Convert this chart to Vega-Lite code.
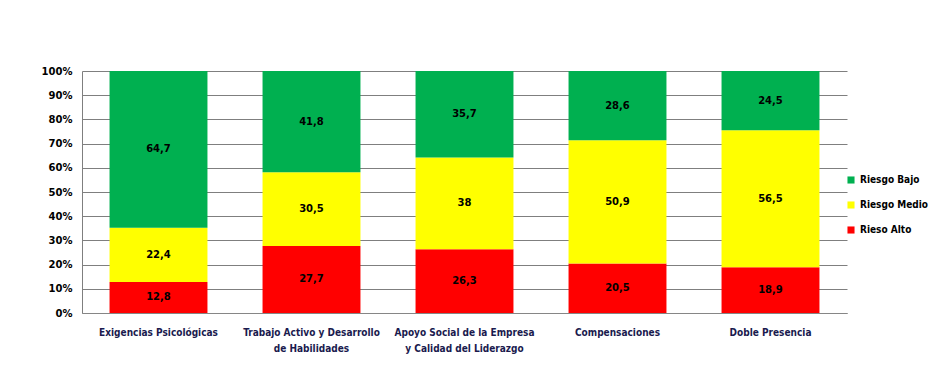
{
  "$schema": "https://vega.github.io/schema/vega-lite/v6.json",
  "width": 765,
  "height": 242,
  "autosize": "none",
  "padding": {"left": 82, "top": 71, "right": 86, "bottom": 67},
  "background": "white",
  "config": {
    "view": {"stroke": null},
    "locale": {"number": {"decimal": ",", "thousands": ".", "grouping": [3], "currency": ["", " €"]}},
    "axisY": {"labelOverlap": false}
  },
  "data": {
    "values": [
      {"cat": "Exigencias Psicológicas", "riesgo": "Rieso Alto", "ord": 1, "valor": 12.8},
      {"cat": "Exigencias Psicológicas", "riesgo": "Riesgo Medio", "ord": 2, "valor": 22.4},
      {"cat": "Exigencias Psicológicas", "riesgo": "Riesgo Bajo", "ord": 3, "valor": 64.7},
      {"cat": "Trabajo Activo y Desarrollo|de Habilidades", "riesgo": "Rieso Alto", "ord": 1, "valor": 27.7},
      {"cat": "Trabajo Activo y Desarrollo|de Habilidades", "riesgo": "Riesgo Medio", "ord": 2, "valor": 30.5},
      {"cat": "Trabajo Activo y Desarrollo|de Habilidades", "riesgo": "Riesgo Bajo", "ord": 3, "valor": 41.8},
      {"cat": "Apoyo Social de la Empresa|y Calidad del Liderazgo", "riesgo": "Rieso Alto", "ord": 1, "valor": 26.3},
      {"cat": "Apoyo Social de la Empresa|y Calidad del Liderazgo", "riesgo": "Riesgo Medio", "ord": 2, "valor": 38},
      {"cat": "Apoyo Social de la Empresa|y Calidad del Liderazgo", "riesgo": "Riesgo Bajo", "ord": 3, "valor": 35.7},
      {"cat": "Compensaciones", "riesgo": "Rieso Alto", "ord": 1, "valor": 20.5},
      {"cat": "Compensaciones", "riesgo": "Riesgo Medio", "ord": 2, "valor": 50.9},
      {"cat": "Compensaciones", "riesgo": "Riesgo Bajo", "ord": 3, "valor": 28.6},
      {"cat": "Doble Presencia", "riesgo": "Rieso Alto", "ord": 1, "valor": 18.9},
      {"cat": "Doble Presencia", "riesgo": "Riesgo Medio", "ord": 2, "valor": 56.5},
      {"cat": "Doble Presencia", "riesgo": "Riesgo Bajo", "ord": 3, "valor": 24.5}
    ]
  },
  "encoding": {
    "x": {
      "field": "cat",
      "type": "nominal",
      "sort": null,
      "scale": {"paddingInner": 0.36, "paddingOuter": 0.18},
      "axis": {
        "title": null,
        "labelAngle": 0,
        "labelExpr": "split(datum.label, '|')",
        "labelFont": "DejaVu Sans Condensed",
        "labelFontWeight": "bold",
        "labelFontSize": 10,
        "labelColor": "#1a1a4e",
        "labelLineHeight": 16,
        "labelPadding": 14,
        "labelBaseline": "top",
        "ticks": false,
        "domainColor": "#868686",
        "domainWidth": 1
      }
    },
    "y": {
      "field": "valor", "type": "quantitative", "stack": "normalize",
      "scale": {"domain": [0, 1], "nice": false},
      "axis": {
        "title": null,
        "format": ".0%",
        "values": [0, 0.1, 0.2, 0.3, 0.4, 0.5, 0.6, 0.7, 0.8, 0.9, 1],
        "labelOverlap": false,
        "labelFont": "DejaVu Sans",
        "labelFontWeight": "bold",
        "labelFontSize": 10,
        "labelColor": "#000000",
        "labelPadding": 10,
        "ticks": false,
        "grid": true,
        "gridColor": "#7f7f7f",
        "gridOpacity": 1,
        "gridWidth": 1,
        "domainColor": "#7f7f7f"
      }
    },
    "order": {"field": "ord", "type": "quantitative"}
  },
  "layer": [
    {
      "mark": {"type": "bar"},
      "encoding": {
        "color": {
          "field": "riesgo",
          "type": "nominal",
          "scale": {"domain": ["Riesgo Bajo", "Riesgo Medio", "Rieso Alto"], "range": ["#00B050", "#FFFF00", "#FF0000"]},
          "legend": {
            "title": null,
            "orient": "none",
            "legendX": 764,
            "legendY": 104,
            "symbolType": "square",
            "symbolSize": 50,
            "symbolStrokeWidth": 0,
            "labelFont": "DejaVu Sans Condensed",
            "labelFontWeight": "bold",
            "labelFontSize": 10,
            "labelColor": "#000000",
            "rowPadding": 15,
            "labelOffset": 4
          }
        }
      }
    },
    {
      "mark": {"type": "text", "font": "DejaVu Sans", "fontWeight": "bold", "fontSize": 10, "color": "#000000"},
      "encoding": {
        "y": {
          "field": "valor", "type": "quantitative", "stack": "normalize", "bandPosition": 0.5,
          "axis": {
            "title": null,
            "format": ".0%",
            "values": [0, 0.1, 0.2, 0.3, 0.4, 0.5, 0.6, 0.7, 0.8, 0.9, 1],
            "labelOverlap": false,
            "labelFont": "DejaVu Sans",
            "labelFontWeight": "bold",
            "labelFontSize": 10,
            "labelColor": "#000000",
            "labelPadding": 10,
            "ticks": false,
            "grid": true,
            "gridColor": "#7f7f7f",
            "gridOpacity": 1,
            "gridWidth": 1,
            "domainColor": "#7f7f7f"
          }
        },
        "text": {"field": "valor", "type": "quantitative", "format": ".1~f"}
      }
    }
  ]
}
